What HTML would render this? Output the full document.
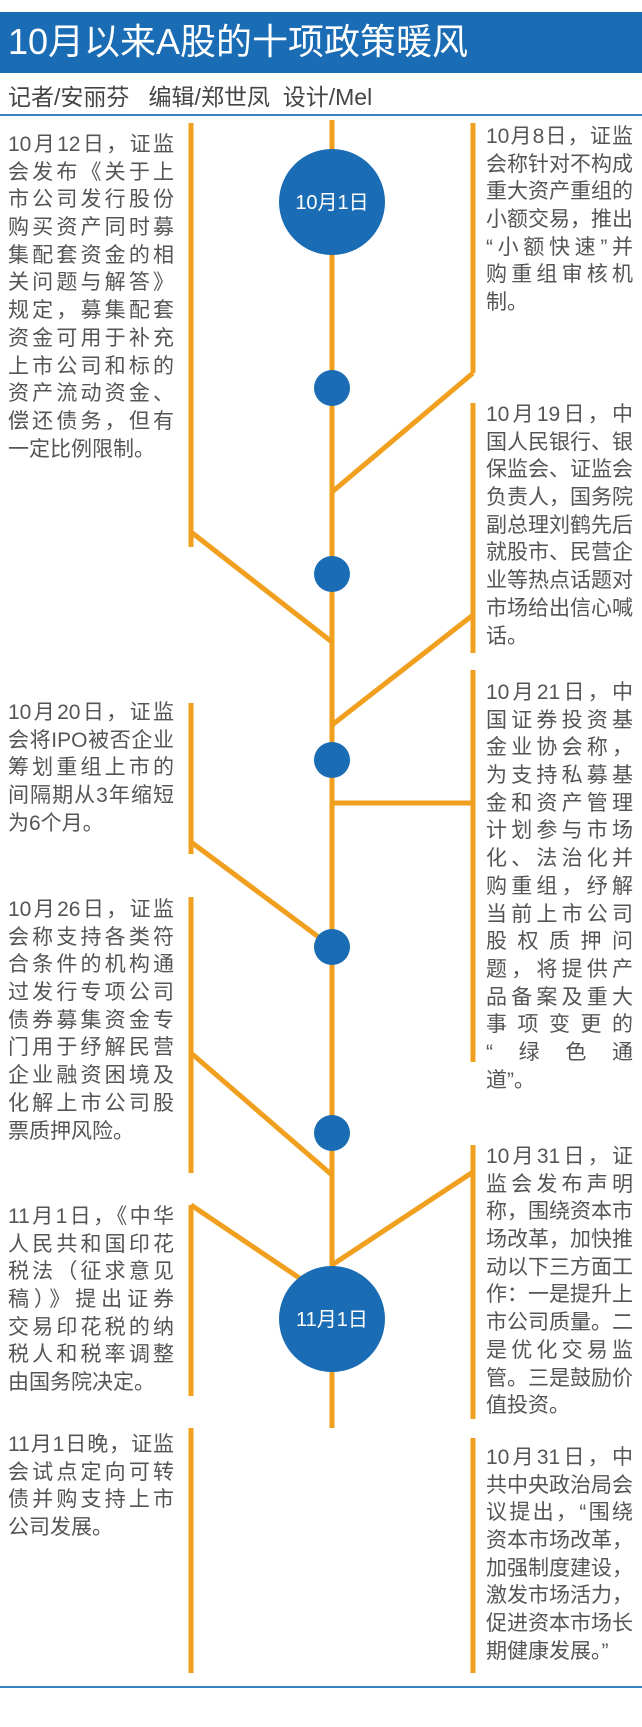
<!DOCTYPE html>
<html><head><meta charset="utf-8"><style>
body{margin:0;width:642px;height:1727px;position:relative;background:#fff;overflow:hidden;font-family:"Liberation Sans","Noto Sans CJK SC",sans-serif}
.t{position:absolute;font-size:21px;line-height:27.7px;color:#555}
.t div{text-align:justify;text-align-last:justify;white-space:nowrap;height:27.7px}
.t div.l{text-align-last:left}
.L{left:8px;width:166px}
.R{left:486px;width:147px}
</style></head><body>
<div style="position:absolute;left:0;top:12px;width:642px;height:61px;background:#1a6cb4"></div>
<div style="position:absolute;left:8px;top:18px;font-size:36px;line-height:48px;color:#fff;white-space:nowrap">10月以来A股的十项政策暖风</div>
<div style="position:absolute;left:8px;top:83px;font-size:23px;line-height:28px;color:#444;white-space:nowrap">记者/安丽芬&nbsp;&nbsp;&nbsp;编辑/郑世凤&nbsp;&nbsp;设计/Mel</div>
<div style="position:absolute;left:0;top:114px;width:642px;height:2px;background:#3a80c4"></div>
<div style="position:absolute;left:0;top:1686px;width:642px;height:2px;background:#3a80c4"></div>
<svg style="position:absolute;left:0;top:0" width="642" height="1727">
<g stroke="#f0a01e" stroke-width="5" fill="none">
<line x1="332" y1="120" x2="332" y2="1428"/>
<line x1="191" y1="123" x2="191" y2="547"/>
<line x1="191" y1="532" x2="332" y2="642"/>
<line x1="191" y1="703" x2="191" y2="854"/>
<line x1="191" y1="842" x2="332" y2="947"/>
<line x1="191" y1="897" x2="191" y2="1173"/>
<line x1="191" y1="1053" x2="332" y2="1175"/>
<line x1="191" y1="1205" x2="191" y2="1396"/>
<line x1="191" y1="1205" x2="332" y2="1300"/>
<line x1="191" y1="1428" x2="191" y2="1673"/>
<line x1="473" y1="123" x2="473" y2="373"/>
<line x1="473" y1="373" x2="332" y2="492"/>
<line x1="473" y1="403" x2="473" y2="653"/>
<line x1="473" y1="615" x2="332" y2="725"/>
<line x1="473" y1="670" x2="473" y2="1062"/>
<line x1="332" y1="803" x2="473" y2="803"/>
<line x1="473" y1="1145" x2="473" y2="1419"/>
<line x1="473" y1="1172" x2="332" y2="1265"/>
<line x1="473" y1="1438" x2="473" y2="1673"/>
</g>
<g fill="#1a6cb4">
<circle cx="332" cy="202" r="53"/>
<circle cx="332" cy="388" r="18"/>
<circle cx="332" cy="574" r="18"/>
<circle cx="332" cy="760" r="18"/>
<circle cx="332" cy="947" r="18"/>
<circle cx="332" cy="1133" r="18"/>
<circle cx="332" cy="1319" r="53"/>
</g>
<g fill="#fff" font-size="20" text-anchor="middle" font-family="Liberation Sans, Noto Sans CJK SC, sans-serif">
<text x="332" y="209">10月1日</text>
<text x="332" y="1326">11月1日</text>
</g>
</svg>
<div class="t L" style="top:131px"><div>10月12日，证监</div><div>会发布《关于上</div><div>市公司发行股份</div><div>购买资产同时募</div><div>集配套资金的相</div><div>关问题与解答》</div><div>规定，募集配套</div><div>资金可用于补充</div><div>上市公司和标的</div><div>资产流动资金、</div><div>偿还债务，但有</div><div class="l">一定比例限制。</div></div>
<div class="t R" style="top:123px"><div>10月8日，证监</div><div>会称针对不构成</div><div>重大资产重组的</div><div>小额交易，推出</div><div>“小额快速”并</div><div>购重组审核机</div><div class="l">制。</div></div>
<div class="t R" style="top:401px"><div>10月19日，中</div><div>国人民银行、银</div><div>保监会、证监会</div><div>负责人，国务院</div><div>副总理刘鹤先后</div><div>就股市、民营企</div><div>业等热点话题对</div><div>市场给出信心喊</div><div class="l">话。</div></div>
<div class="t L" style="top:699px"><div>10月20日，证监</div><div>会将IPO被否企业</div><div>筹划重组上市的</div><div>间隔期从3年缩短</div><div class="l">为6个月。</div></div>
<div class="t R" style="top:679px"><div>10月21日，中</div><div>国证券投资基</div><div>金业协会称，</div><div>为支持私募基</div><div>金和资产管理</div><div>计划参与市场</div><div>化、法治化并</div><div>购重组，纾解</div><div>当前上市公司</div><div>股权质押问</div><div>题，将提供产</div><div>品备案及重大</div><div>事项变更的</div><div>“绿色通</div><div class="l">道”。</div></div>
<div class="t L" style="top:896px"><div>10月26日，证监</div><div>会称支持各类符</div><div>合条件的机构通</div><div>过发行专项公司</div><div>债券募集资金专</div><div>门用于纾解民营</div><div>企业融资困境及</div><div>化解上市公司股</div><div class="l">票质押风险。</div></div>
<div class="t R" style="top:1143px"><div>10月31日，证</div><div>监会发布声明</div><div>称，围绕资本市</div><div>场改革，加快推</div><div>动以下三方面工</div><div>作：一是提升上</div><div>市公司质量。二</div><div>是优化交易监</div><div>管。三是鼓励价</div><div class="l">值投资。</div></div>
<div class="t L" style="top:1203px"><div>11月1日，《中华</div><div>人民共和国印花</div><div>税法（征求意见</div><div>稿）》提出证券</div><div>交易印花税的纳</div><div>税人和税率调整</div><div class="l">由国务院决定。</div></div>
<div class="t L" style="top:1431px"><div>11月1日晚，证监</div><div>会试点定向可转</div><div>债并购支持上市</div><div class="l">公司发展。</div></div>
<div class="t R" style="top:1444px"><div>10月31日，中</div><div>共中央政治局会</div><div>议提出，“围绕</div><div class="l">资本市场改革，</div><div class="l">加强制度建设，</div><div class="l">激发市场活力，</div><div>促进资本市场长</div><div class="l">期健康发展。”</div></div>
</body></html>
